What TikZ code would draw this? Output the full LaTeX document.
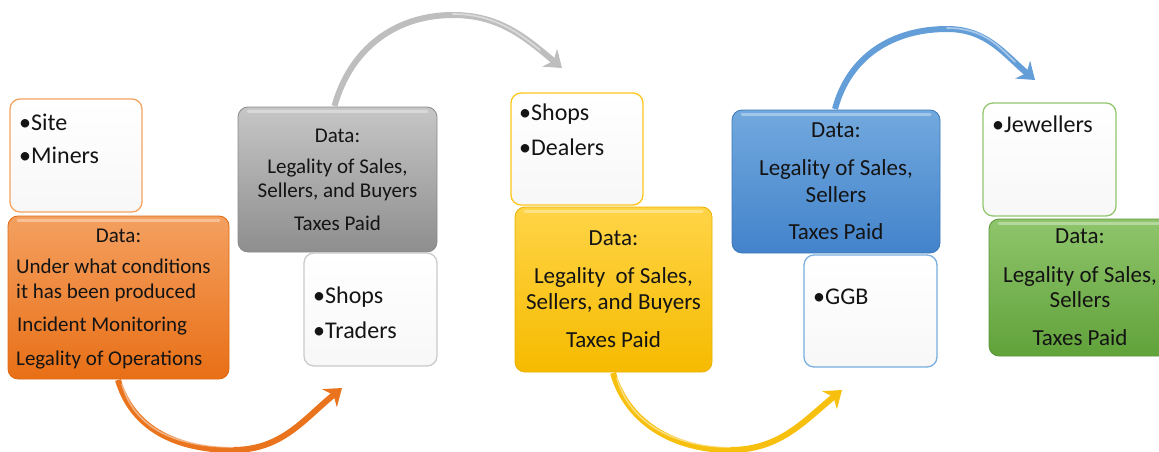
\documentclass[tikz,border=0pt]{standalone}
\usepackage{fontspec}
\setmainfont{Carlito}
\usetikzlibrary{arrows.meta}
\definecolor{oTop}{HTML}{F4A060}
\definecolor{oBot}{HTML}{E86F16}
\definecolor{oLine}{HTML}{DD6A14}
\definecolor{oLight}{HTML}{F4A45F}
\definecolor{gTop}{HTML}{C6C6C6}
\definecolor{gBot}{HTML}{8E8E8E}
\definecolor{gLine}{HTML}{8A8A8A}
\definecolor{gLight}{HTML}{CACACA}
\definecolor{yTop}{HTML}{FFD447}
\definecolor{yBot}{HTML}{F6BB00}
\definecolor{yLine}{HTML}{E9B000}
\definecolor{yLight}{HTML}{FFC61A}
\definecolor{bTop}{HTML}{72A9DE}
\definecolor{bBot}{HTML}{4383CB}
\definecolor{bLine}{HTML}{3C78B8}
\definecolor{bLight}{HTML}{78AEE0}
\definecolor{grTop}{HTML}{8FC56C}
\definecolor{grBot}{HTML}{61A23A}
\definecolor{grLine}{HTML}{5A9436}
\definecolor{grLight}{HTML}{92C66F}
\definecolor{txt}{HTML}{141414}
\tikzset{
  box/.style={rounded corners=10pt, inner sep=0pt, outer sep=0pt, anchor=north west},
  wbox/.style={box, line width=1.3pt, top color=white, bottom color=white!97!black},
  dbox/.style={box, line width=0.8pt},
  bul/.style={anchor=base west, inner sep=0pt, text=txt, font=\fontsize{24}{24}\selectfont},
  dtxt/.style={anchor=base, inner sep=0pt, text=txt},
  dtxtl/.style={anchor=base west, inner sep=0pt, text=txt},
  sz21/.style={font=\fontsize{21}{21}\selectfont},
  sz23/.style={font=\fontsize{23}{23}\selectfont},
  flow/.style={line width=6pt, line cap=butt, -{Stealth[length=16pt,width=23pt,inset=5pt]}},
  gloss/.style={white, opacity=0.45, line width=1.6pt, line cap=round},
}
\newcommand{\topgloss}[1]{%
  \draw[white, opacity=0.35, line width=3pt, line cap=round]
    ([xshift=10pt,yshift=-4pt]#1.north west) -- ([xshift=-10pt,yshift=-4pt]#1.north east);}
\begin{document}
\begin{tikzpicture}[x=1pt,y=-1pt]
\useasboundingbox (0,0) rectangle (1159,452);
\clip (0,0) rectangle (1159,452);

% ---------- boxes ----------
\node[wbox, draw=oLight, minimum width=132pt, minimum height=113pt] (o1) at (10,99) {};
\node[dbox, draw=oLine, top color=oTop, bottom color=oBot, minimum width=221pt, minimum height=163pt] (o2) at (8,216) {};
\node[dbox, draw=gLine, top color=gTop, bottom color=gBot, minimum width=199pt, minimum height=145pt] (g1) at (238,107) {};
\node[wbox, draw=gLight, minimum width=133pt, minimum height=113pt] (g2) at (304,253) {};
\node[wbox, draw=yLight, minimum width=132pt, minimum height=112pt] (y1) at (511,93) {};
\node[dbox, draw=yLine, top color=yTop, bottom color=yBot, minimum width=197pt, minimum height=165pt] (y2) at (515,207) {};
\node[dbox, draw=bLine, top color=bTop, bottom color=bBot, minimum width=208pt, minimum height=143pt] (b1) at (732,110) {};
\node[wbox, draw=bLight, minimum width=133pt, minimum height=112pt] (b2) at (804,255) {};
\node[wbox, draw=grLight, minimum width=133pt, minimum height=113pt] (r1) at (983,103) {};
\node[dbox, draw=grLine, top color=grTop, bottom color=grBot, minimum width=182pt, minimum height=137pt] (r2) at (989,219) {};
\topgloss{o2}\topgloss{g1}\topgloss{y2}\topgloss{b1}\topgloss{r2}

% ---------- texts ----------
\node[bul] (o1a) at (19,130) {•Site};
\node[bul] (o1b) at (19,163) {•Miners};
\node[dtxt, sz21] (o2a) at (118.5,242) {Data:};
\node[dtxtl, sz21] (o2b) at (16,273) {Under what conditions};
\node[dtxtl, sz21] (o2c) at (16,298) {it has been produced};
\node[dtxtl, sz21] (o2d) at (17,331) {Incident Monitoring};
\node[dtxtl, sz21] (o2e) at (16,365) {Legality of Operations};

\node[dtxt, sz21] (g1a) at (337.5,142) {Data:};
\node[dtxt, sz21] (g1b) at (337.5,173) {Legality of Sales,};
\node[dtxt, sz21] (g1c) at (337.5,197) {Sellers, and Buyers};
\node[dtxt, sz21] (g1d) at (337.5,230) {Taxes Paid};
\node[bul] (g2a) at (313,303) {•Shops};
\node[bul] (g2b) at (313,338) {•Traders};

\node[bul] (y1a) at (519,120) {•Shops};
\node[bul] (y1b) at (519,155) {•Dealers};
\node[dtxt, sz23] (y2a) at (613.5,245) {Data:};
\node[dtxt, sz23] (y2b) at (613.5,283) {Legality\ \ of Sales,};
\node[dtxt, sz23] (y2c) at (613.5,309) {Sellers, and Buyers};
\node[dtxt, sz23] (y2d) at (613.5,347) {Taxes Paid};

\node[dtxt, sz23] (b1a) at (836,137) {Data:};
\node[dtxt, sz23] (b1b) at (836,175) {Legality of Sales,};
\node[dtxt, sz23] (b1c) at (836,202) {Sellers};
\node[dtxt, sz23] (b1d) at (836,239) {Taxes Paid};
\node[bul] (b2a) at (813,304) {•GGB};

\node[bul] (r1a) at (992,132) {•Jewellers};
\node[dtxt, sz23] (r2a) at (1080,243) {Data:};
\node[dtxt, sz23] (r2b) at (1080,282) {Legality of Sales,};
\node[dtxt, sz23] (r2c) at (1080,307) {Sellers};
\node[dtxt, sz23] (r2d) at (1080,345) {Taxes Paid};

% ---------- arrow end points ----------
\coordinate (oEnd) at (342,388);
\coordinate (gEnd) at (562,68);
\coordinate (yEnd) at (842,390);
\coordinate (bEnd) at (1035,80);

% ---------- arrows ----------
\draw[flow, color=oBot!90!oTop] ([xshift=-0.5pt]o2.south) ++(0,1)
  .. controls (133,431) and (180,450) .. (233,450)
  .. controls (282,450) and (304,419) .. (oEnd);
\draw[gloss] (122,384) .. controls (135,431) and (180,447) .. (233,447);

\draw[flow, color=gTop!85!gBot] ([xshift=-3pt]g1.north) ++(0,-1)
  .. controls (350,50) and (394,15) .. (453,15)
  .. controls (500,15) and (526,38) .. (gEnd);
\draw[gloss] (453,14) .. controls (495,14) and (520,34) .. (540,50);

\draw[flow, color=yBot!80!yTop] ([xshift=-0.5pt]y2.south) ++(0,1)
  .. controls (628,425) and (677,450) .. (730,450)
  .. controls (780,450) and (804,421) .. (yEnd);
\draw[gloss] (617,378) .. controls (630,425) and (677,447) .. (730,447);

\draw[flow, color=bTop!70!bBot] ([xshift=-1pt]b1.north) ++(0,-1)
  .. controls (849,56) and (893,29) .. (947,29)
  .. controls (987,29) and (1004,54) .. (bEnd);
\draw[gloss] (947,28) .. controls (985,28) and (1000,48) .. (1015,62);
\end{tikzpicture}
\end{document}
